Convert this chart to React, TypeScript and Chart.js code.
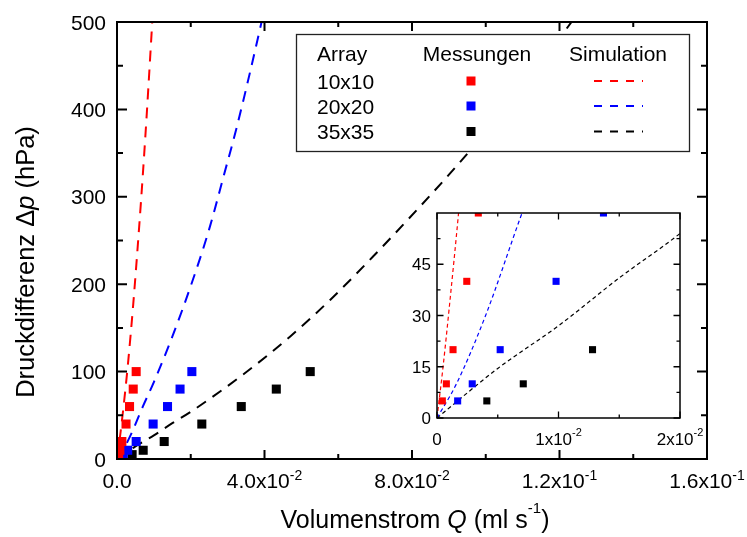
import React, { useEffect, useRef } from 'react';
import { Chart, registerables } from 'chart.js';

Chart.register(...registerables);

const FONT = 'Arial, "Liberation Sans", Helvetica, sans-serif';

// ---------- data ----------
const arrays = ['10x10', '20x20', '35x35'];
const seriesColors = ['#ff0000', '#0000ff', '#000000'];
const legendHeaders = ['Array', 'Messungen', 'Simulation'];

// measured pressure differences (hPa)
const measPressure = [5, 10, 20, 40, 60, 80, 100];
// measured flow rates (ml/s)
const measFlow10 = [0.00044, 0.00077, 0.00132, 0.00245, 0.0034, 0.0044, 0.0052];
const measFlow20 = [0.0017, 0.0029, 0.0052, 0.0098, 0.0137, 0.0171, 0.0203];
const measFlow35 = [0.0041, 0.0071, 0.0128, 0.023, 0.0337, 0.0432, 0.0524];

// simulation curves
const simFlow10 = [0, 0.0005, 0.001, 0.0018, 0.003, 0.0044, 0.006, 0.007, 0.008, 0.009, 0.0097, 0.0102];
const simP10 = [0, 15, 32, 61, 110, 177, 265, 325, 390, 460, 510, 545];
const simFlow20 = [0, 0.0016, 0.004, 0.007, 0.01, 0.015, 0.02, 0.025, 0.029, 0.0325, 0.0392, 0.041];
const simP20 = [0, 10, 30, 60, 88, 140, 198, 263, 325, 380, 500, 535];
const simFlow35 = [0, 0.005, 0.01, 0.015, 0.02, 0.0343, 0.0469, 0.0578, 0.0695, 0.0822, 0.0935, 0.11, 0.125];
const simP35 = [0, 14.5, 27, 41, 54, 97, 140, 182, 232, 289, 342, 425, 510];

// axes
const xMin = 0, xMax = 0.16, yMin = 0, yMax = 500;
const yTicks = [0, 100, 200, 300, 400, 500];
const yMinorTicks = [50, 150, 250, 350, 450];
const xTicks = [0, 0.04, 0.08, 0.12, 0.16];
const xMinorTicks = [0.02, 0.06, 0.1, 0.14];
const xTickBase = ['0.0', '4.0x10', '8.0x10', '1.2x10', '1.6x10'];
const xTickExp = ['', '-2', '-2', '-1', '-1'];

// inset axes
const insetXMax = 0.02, insetYMax = 60;
const insetYTicks = [0, 15, 30, 45];
const insetYMinor = [7.5, 22.5, 37.5, 52.5];
const insetXTicks = [0, 0.01, 0.02];
const insetXMinor = [0.005, 0.015];
const insetXBase = ['0', '1x10', '2x10'];
const insetXExp = ['', '-2', '-2'];

const measFlows = [measFlow10, measFlow20, measFlow35];
const simFlows = [simFlow10, simFlow20, simFlow35];
const simPs = [simP10, simP20, simP35];

type Part = { t: string; size: number; italic?: boolean; dy?: number };

function drawRich(ctx: CanvasRenderingContext2D, parts: Part[], x: number, y: number, align: 'left' | 'center' | 'right') {
  let total = 0;
  const widths: number[] = [];
  for (const p of parts) {
    ctx.font = `${p.italic ? 'italic ' : ''}${p.size}px ${FONT}`;
    const w = ctx.measureText(p.t).width;
    widths.push(w);
    total += w;
  }
  let cx = align === 'left' ? x : align === 'center' ? x - total / 2 : x - total;
  ctx.textAlign = 'left';
  ctx.textBaseline = 'alphabetic';
  parts.forEach((p, i) => {
    ctx.font = `${p.italic ? 'italic ' : ''}${p.size}px ${FONT}`;
    ctx.fillText(p.t, cx, y - (p.dy || 0));
    cx += widths[i];
  });
}

function buildDatasets(pointRadius: number, lineWidth: number, dash: number[]) {
  const ds: any[] = [];
  arrays.forEach((name, i) => {
    ds.push({
      label: `${name} Messungen`,
      data: measFlows[i].map((q, k) => ({ x: q, y: measPressure[k] })),
      showLine: false,
      pointStyle: 'rect',
      pointRadius,
      pointBorderWidth: 0,
      backgroundColor: seriesColors[i],
      borderColor: seriesColors[i],
      order: 0,
      clip: 0,
    });
  });
  arrays.forEach((name, i) => {
    ds.push({
      label: `${name} Simulation`,
      data: simFlows[i].map((q, k) => ({ x: q, y: simPs[i][k] })),
      showLine: true,
      pointRadius: 0,
      borderColor: seriesColors[i],
      backgroundColor: seriesColors[i],
      borderWidth: lineWidth,
      borderDash: dash,
      cubicInterpolationMode: 'monotone',
      fill: false,
      order: 1,
      clip: 0,
    });
  });
  return ds;
}

const mainDecor = {
  id: 'mainDecor',
  afterDatasetsDraw(chart: any) {
    const { ctx, chartArea: a } = chart;
    const xs = chart.scales.x;
    const ys = chart.scales.y;
    ctx.save();

    // legend box
    ctx.fillStyle = '#ffffff';
    ctx.fillRect(296, 34, 393, 117);
    ctx.strokeStyle = '#222';
    ctx.lineWidth = 1.3;
    ctx.strokeRect(296.5, 34.5, 393, 117);
    ctx.fillStyle = '#000';
    drawRich(ctx, [{ t: legendHeaders[0], size: 21 }], 317, 60.5, 'left');
    drawRich(ctx, [{ t: legendHeaders[1], size: 21 }], 477, 60.5, 'center');
    drawRich(ctx, [{ t: legendHeaders[2], size: 21 }], 618, 60.5, 'center');
    const rows = [81, 106, 131.5];
    arrays.forEach((name, i) => {
      ctx.fillStyle = '#000';
      drawRich(ctx, [{ t: name, size: 21 }], 317, rows[i] + 7.5, 'left');
      ctx.fillStyle = seriesColors[i];
      ctx.fillRect(471 - 4.5, rows[i] - 4.5, 9, 9);
      ctx.strokeStyle = seriesColors[i];
      ctx.lineWidth = 2;
      ctx.setLineDash([8, 8]);
      ctx.beginPath();
      ctx.moveTo(594, rows[i]);
      ctx.lineTo(643, rows[i]);
      ctx.stroke();
      ctx.setLineDash([]);
    });

    // frame
    ctx.strokeStyle = '#000';
    ctx.lineWidth = 2;
    ctx.strokeRect(a.left, a.top, a.right - a.left, a.bottom - a.top);
    ctx.beginPath();
    for (const v of yTicks) {
      const py = ys.getPixelForValue(v);
      ctx.moveTo(a.left, py); ctx.lineTo(a.left + 10, py);
      ctx.moveTo(a.right, py); ctx.lineTo(a.right - 10, py);
    }
    for (const v of yMinorTicks) {
      const py = ys.getPixelForValue(v);
      ctx.moveTo(a.left, py); ctx.lineTo(a.left + 6, py);
      ctx.moveTo(a.right, py); ctx.lineTo(a.right - 6, py);
    }
    for (const v of xTicks) {
      const px = xs.getPixelForValue(v);
      ctx.moveTo(px, a.bottom); ctx.lineTo(px, a.bottom - 9);
      ctx.moveTo(px, a.top); ctx.lineTo(px, a.top + 9);
    }
    for (const v of xMinorTicks) {
      const px = xs.getPixelForValue(v);
      ctx.moveTo(px, a.bottom); ctx.lineTo(px, a.bottom - 5);
      ctx.moveTo(px, a.top); ctx.lineTo(px, a.top + 5);
    }
    ctx.stroke();

    // tick labels
    ctx.fillStyle = '#000';
    for (const v of yTicks) {
      const py = ys.getPixelForValue(v);
      drawRich(ctx, [{ t: String(v), size: 21 }], a.left - 11, py + 7.5, 'right');
    }
    xTicks.forEach((v, i) => {
      const px = xs.getPixelForValue(v);
      const parts: Part[] = [{ t: xTickBase[i], size: 21 }];
      if (xTickExp[i]) parts.push({ t: xTickExp[i], size: 14, dy: 8 });
      drawRich(ctx, parts, px, a.bottom + 29, 'center');
    });

    // x title
    drawRich(
      ctx,
      [
        { t: 'Volumenstrom ', size: 25 },
        { t: 'Q', size: 25, italic: true },
        { t: ' (ml s', size: 25 },
        { t: '-1', size: 15, dy: 15 },
        { t: ')', size: 25 },
      ],
      (a.left + a.right) / 2 + 3,
      528,
      'center'
    );

    // y title
    ctx.save();
    ctx.translate(33.5, 262);
    ctx.rotate(-Math.PI / 2);
    drawRich(
      ctx,
      [
        { t: 'Druckdifferenz \u0394', size: 25.5 },
        { t: 'p', size: 25.5, italic: true },
        { t: ' (hPa)', size: 25.5 },
      ],
      0,
      0,
      'center'
    );
    ctx.restore();

    ctx.restore();
  },
};

const insetDecor = {
  id: 'insetDecor',
  afterDatasetsDraw(chart: any) {
    const { ctx, chartArea: a } = chart;
    const xs = chart.scales.x;
    const ys = chart.scales.y;
    ctx.save();
    ctx.strokeStyle = '#000';
    ctx.lineWidth = 1.5;
    ctx.strokeRect(a.left, a.top, a.right - a.left, a.bottom - a.top);
    ctx.lineWidth = 1.3;
    ctx.beginPath();
    for (const v of insetYTicks) {
      const py = ys.getPixelForValue(v);
      ctx.moveTo(a.left, py); ctx.lineTo(a.left + 6.5, py);
      ctx.moveTo(a.right, py); ctx.lineTo(a.right - 6.5, py);
    }
    for (const v of insetYMinor) {
      const py = ys.getPixelForValue(v);
      ctx.moveTo(a.left, py); ctx.lineTo(a.left + 3.5, py);
      ctx.moveTo(a.right, py); ctx.lineTo(a.right - 3.5, py);
    }
    for (const v of insetXTicks) {
      const px = xs.getPixelForValue(v);
      ctx.moveTo(px, a.bottom); ctx.lineTo(px, a.bottom - 6.5);
      ctx.moveTo(px, a.top); ctx.lineTo(px, a.top + 6.5);
    }
    for (const v of insetXMinor) {
      const px = xs.getPixelForValue(v);
      ctx.moveTo(px, a.bottom); ctx.lineTo(px, a.bottom - 3.5);
      ctx.moveTo(px, a.top); ctx.lineTo(px, a.top + 3.5);
    }
    ctx.stroke();

    ctx.fillStyle = '#000';
    for (const v of insetYTicks) {
      const py = ys.getPixelForValue(v);
      drawRich(ctx, [{ t: String(v), size: 17 }], a.left - 6, py + 6, 'right');
    }
    insetXTicks.forEach((v, i) => {
      const px = xs.getPixelForValue(v);
      const parts: Part[] = [{ t: insetXBase[i], size: 17 }];
      if (insetXExp[i]) parts.push({ t: insetXExp[i], size: 11, dy: 9 });
      drawRich(ctx, parts, px, a.bottom + 27, 'center');
    });
    ctx.restore();
  },
};

export default function App() {
  const mainRef = useRef<HTMLCanvasElement | null>(null);
  const insetRef = useRef<HTMLCanvasElement | null>(null);

  useEffect(() => {
    if (!mainRef.current || !insetRef.current) return;
    const main = new Chart(mainRef.current, {
      type: 'scatter',
      data: { datasets: buildDatasets(6.4, 2, [11, 8]) },
      options: {
        responsive: false,
        animation: false,
        events: [],
        layout: { padding: { left: 117, top: 22, right: 40, bottom: 78 } },
        scales: {
          x: { type: 'linear', min: xMin, max: xMax, display: false },
          y: { type: 'linear', min: yMin, max: yMax, display: false },
        },
        plugins: { legend: { display: false }, tooltip: { enabled: false } },
      },
      plugins: [mainDecor],
    } as any);

    const inset = new Chart(insetRef.current, {
      type: 'scatter',
      data: { datasets: buildDatasets(5, 1.2, [4, 3]) },
      options: {
        responsive: false,
        animation: false,
        events: [],
        layout: { padding: { left: 42, top: 13, right: 25, bottom: 32 } },
        scales: {
          x: { type: 'linear', min: 0, max: insetXMax, display: false },
          y: { type: 'linear', min: 0, max: insetYMax, display: false },
        },
        plugins: { legend: { display: false }, tooltip: { enabled: false } },
      },
      plugins: [insetDecor],
    } as any);

    return () => {
      main.destroy();
      inset.destroy();
    };
  }, []);

  return (
    <div style={{ position: 'absolute', left: 0, top: 0, width: 747, height: 537, background: '#fff' }}>
      <canvas ref={mainRef} width={747} height={537} style={{ position: 'absolute', left: 0, top: 0, width: 747, height: 537 }} />
      <canvas ref={insetRef} width={310} height={250} style={{ position: 'absolute', left: 395, top: 200, width: 310, height: 250 }} />
    </div>
  );
}
